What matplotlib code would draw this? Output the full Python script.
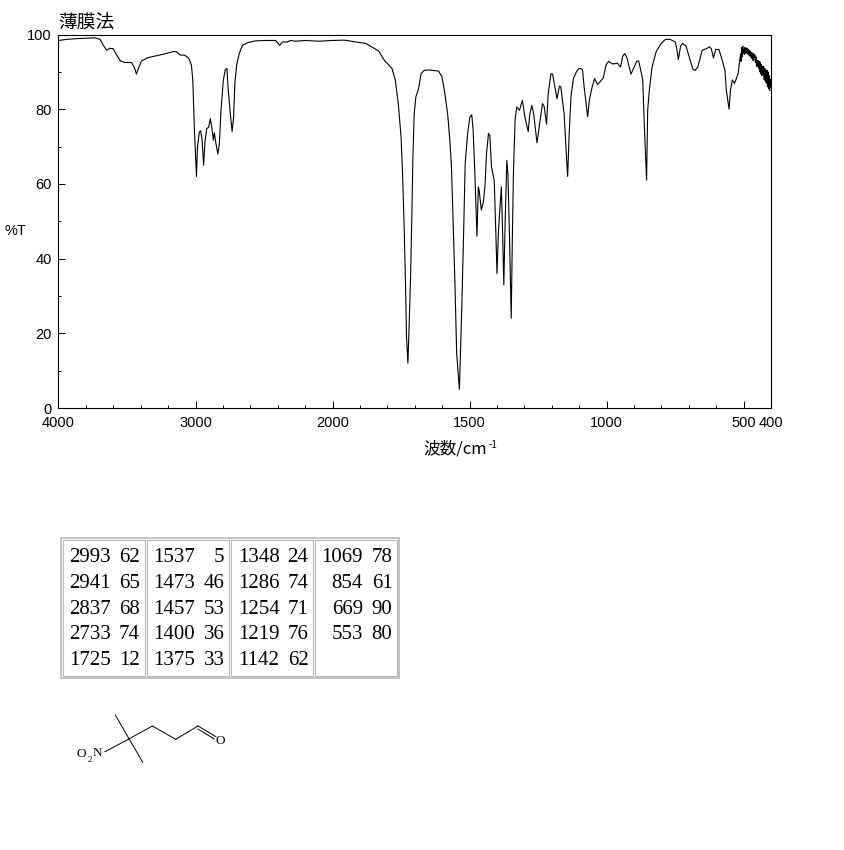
import numpy as np
import matplotlib
matplotlib.use('Agg')
import matplotlib.pyplot as plt
from matplotlib.patches import Rectangle
from matplotlib.ticker import FixedLocator, FixedFormatter

plt.rcParams['font.family'] = ['Noto Sans CJK JP', 'DejaVu Sans']

# spectrum
wavenumber = [
    4000, 3940, 3867, 3794, 3734, 3697, 3673, 3649, 3625, 3600, 3576, 3547, 3516, 3467, 3448, 3431,
    3417, 3395, 3347, 3286, 3214, 3165, 3141, 3112, 3080, 3049, 3030, 3020, 3008, 2993, 2986, 2972,
    2962, 2952, 2941, 2930, 2918, 2904, 2892, 2880, 2870, 2863, 2851, 2837, 2826, 2814, 2797, 2783,
    2771, 2761, 2746, 2733, 2722, 2713, 2700, 2681, 2657, 2621, 2560, 2487, 2415, 2386, 2366, 2330,
    2306, 2270, 2197, 2100, 2003, 1957, 1915, 1878, 1832, 1811, 1783, 1771, 1760, 1750, 1744, 1738,
    1734, 1730, 1725, 1720, 1715, 1710, 1707, 1702, 1696, 1686, 1677, 1665, 1647, 1613, 1601, 1592,
    1580, 1572, 1566, 1560, 1553, 1547, 1537, 1534, 1528, 1522, 1516, 1507, 1499, 1492, 1487, 1481,
    1473, 1468, 1465, 1457, 1450, 1444, 1438, 1431, 1426, 1420, 1410, 1404, 1400, 1395, 1389, 1384,
    1379, 1375, 1370, 1364, 1360, 1355, 1348, 1344, 1340, 1334, 1328, 1318, 1307, 1298, 1286, 1280,
    1273, 1266, 1254, 1246, 1234, 1228, 1219, 1213, 1203, 1197, 1181, 1172, 1167, 1155, 1147, 1142,
    1137, 1130, 1121, 1109, 1100, 1088, 1082, 1069, 1063, 1054, 1044, 1033, 1021, 1012, 1002, 993,
    978, 960, 949, 941, 934, 926, 911, 899, 890, 883, 874, 868, 862, 854, 850, 844,
    834, 819, 801, 785, 768, 749, 743, 738, 730, 722, 710, 697, 685, 677, 667, 651,
    636, 624, 618, 610, 602, 590, 578, 568, 563, 553, 548, 541, 533, 520, 511, 509,
    507, 505, 503, 501, 499, 497, 495, 493, 491, 489, 487, 485, 483, 481, 479, 477,
    475, 473, 471, 469, 467, 465, 463, 461, 459, 457, 455, 453, 451, 449, 447, 445,
    443, 441, 439, 437, 435, 433, 431, 429, 427, 425, 423, 421, 419, 417, 415, 413,
    411, 409, 407, 405, 403, 401,
]
transmittance = [
    98.4, 98.7, 98.9, 99.0, 99.1, 98.7, 97.1, 95.8, 96.3, 96.2, 94.5, 92.9, 92.5, 92.5, 91.3, 89.4,
    90.9, 92.9, 93.8, 94.3, 94.9, 95.4, 95.4, 94.5, 94.5, 93.6, 91.8, 87.8, 74.4, 62.0, 69.9, 73.9,
    74.2, 71.7, 65.0, 71.7, 74.8, 75.2, 77.5, 74.8, 71.7, 73.7, 70.8, 68.0, 70.8, 79.7, 87.8, 90.6,
    90.9, 85.1, 78.8, 74.0, 77.9, 86.9, 91.8, 94.9, 97.1, 97.8, 98.3, 98.4, 98.4, 97.1, 98.0, 98.0,
    98.4, 98.2, 98.4, 98.2, 98.4, 98.5, 98.0, 97.6, 95.6, 93.1, 90.9, 87.8, 81.5, 72.6, 61.8, 46.6,
    34.1, 18.9, 12.0, 23.4, 35.9, 53.8, 66.3, 78.8, 83.3, 85.5, 89.5, 90.4, 90.5, 90.2, 88.7, 85.1,
    78.8, 71.7, 64.5, 50.2, 32.3, 14.5, 5.0, 12.7, 27.9, 45.8, 65.4, 73.5, 77.9, 78.5, 74.4, 63.6,
    46.0, 59.2, 58.3, 53.0, 55.1, 59.2, 68.1, 73.5, 73.0, 64.5, 60.9, 46.6, 36.0, 46.6, 53.8, 59.2,
    45.8, 33.0, 50.2, 66.3, 62.7, 48.4, 24.0, 44.9, 62.7, 77.0, 80.6, 79.7, 82.4, 77.9, 74.0, 78.8,
    81.0, 78.8, 71.0, 75.2, 81.5, 80.8, 76.0, 84.2, 89.5, 89.4, 82.8, 86.2, 86.0, 78.8, 68.1, 62.0,
    72.6, 83.3, 88.2, 90.2, 90.9, 90.7, 86.0, 78.0, 82.4, 85.5, 88.2, 86.6, 87.6, 88.4, 91.8, 92.8,
    92.1, 92.3, 91.3, 94.2, 94.9, 93.8, 89.4, 91.3, 92.9, 92.9, 90.0, 87.8, 75.2, 61.0, 79.7, 85.1,
    91.3, 95.4, 97.6, 98.7, 98.7, 98.0, 95.8, 93.3, 96.9, 97.6, 96.9, 93.6, 90.7, 90.4, 91.3, 95.8,
    96.2, 96.7, 96.2, 93.7, 96.0, 96.0, 93.1, 90.4, 85.1, 80.0, 85.1, 87.8, 86.9, 89.5, 94.9, 92.8,
    96.5, 94.0, 96.9, 95.0, 96.0, 94.7, 96.5, 95.0, 96.4, 95.0, 96.3, 94.8, 96.0, 94.5, 95.8, 94.2,
    95.5, 94.0, 95.2, 93.5, 95.0, 93.0, 94.8, 93.8, 94.5, 92.5, 94.0, 91.5, 93.0, 91.5, 93.0, 91.0,
    92.8, 90.0, 92.6, 89.5, 92.0, 89.0, 91.5, 89.5, 91.5, 88.0, 91.0, 87.5, 90.5, 87.0, 90.5, 86.0,
    90.0, 85.5, 89.0, 85.0, 88.0, 86.0,
]

x_ticks = [3000, 2000, 1500, 1000, 500]
x_labels = ['3000', '2000', '1500', '1000', '500']
y_ticks = [0, 20, 40, 60, 80, 100]
y_labels = ['0', '20', '40', '60', '80', '100']

# peak table, one list per column
peak_wn = [
    ['2993', '2941', '2837', '2733', '1725'],
    ['1537', '1473', '1457', '1400', '1375'],
    ['1348', '1286', '1254', '1219', '1142'],
    ['1069', '854', '669', '553'],
]
peak_t = [
    ['62', '65', '68', '74', '12'],
    ['5', '46', '53', '36', '33'],
    ['24', '74', '71', '76', '62'],
    ['78', '61', '90', '80'],
]

W, H = 845, 850
TICK_FONT = 'Liberation Sans'
SERIF = 'Liberation Serif'


def forward(x):
    # the wavenumber axis is twice as compressed above 2000
    x = np.asarray(x, dtype=float)
    return np.where(x <= 2000, x, 2000 + (x - 2000) / 2)


def inverse(p):
    p = np.asarray(p, dtype=float)
    return np.where(p <= 2000, p, 2000 + (p - 2000) * 2)


fig = plt.figure(figsize=(W / 100, H / 100), dpi=100)
ax = fig.add_axes([58.5 / W, 1 - 408 / H, (771 - 58.5) / W, (408 - 34.5) / H])
ax.set_xscale('function', functions=(forward, inverse))
ax.plot(wavenumber, transmittance, color='black', lw=0.8)
ax.set_xlim(4000, 400)
ax.set_ylim(0, 100)

ax.xaxis.set_major_locator(FixedLocator(x_ticks))
ax.xaxis.set_major_formatter(FixedFormatter(x_labels))
ax.xaxis.set_minor_locator(FixedLocator(
    [3800, 3600, 3400, 3200, 2800, 2600, 2400, 2200, 1900, 1800, 1700, 1600,
     1400, 1300, 1200, 1100, 900, 800, 700, 600]))
ax.yaxis.set_major_locator(FixedLocator(y_ticks))
ax.yaxis.set_major_formatter(FixedFormatter(y_labels))
ax.yaxis.set_minor_locator(FixedLocator([10, 30, 50, 70, 90]))
ax.tick_params(which='major', direction='in', length=5, width=0.7)
ax.tick_params(which='minor', direction='in', length=2.5, width=0.7)
ax.tick_params(axis='x', pad=6)
ax.tick_params(axis='y', pad=5)
for lab in ax.get_xticklabels() + ax.get_yticklabels():
    lab.set_family(TICK_FONT)
    lab.set_fontsize(10.5)
for s in ax.spines.values():
    s.set_linewidth(0.8)

# everything else is laid out in pixel coordinates on an overlay
ov = fig.add_axes([0, 0, 1, 1], zorder=-1)
ov.set_xlim(0, W)
ov.set_ylim(H, 0)
ov.axis('off')

ov.text(58, 23, '薄膜法', fontsize=13.5, va='center', ha='left')
ov.text(5, 231, '%T', fontsize=10.5, va='center', ha='left', family=TICK_FONT)
ov.text(58, 423, '4000', fontsize=10.5, va='center', ha='center', family=TICK_FONT)
ov.text(771, 423, '400', fontsize=10.5, va='center', ha='center', family=TICK_FONT)
ov.text(423, 449, '波数/cm', fontsize=12, va='center', ha='left')
ov.text(489, 445, '-1', fontsize=7, va='center', ha='left')

# peak table
grey = '#b8b8b8'
ov.add_patch(Rectangle((61.5, 537.5), 338, 140, fill=False, ec=grey, lw=1.2))
cell_left = [63.5, 147.5, 231.5, 315.5]
wn_right = [111, 195, 279.5, 363]
t_right = [140, 224.5, 308.5, 392.5]
row_y = [557.5, 583, 609, 634.5, 660.5]
for c, left in enumerate(cell_left):
    ov.add_patch(Rectangle((left, 539.5), 82, 136, fill=False, ec=grey, lw=0.8))
    for r in range(len(peak_wn[c])):
        ov.text(wn_right[c], row_y[r], peak_wn[c][r], family=SERIF, fontsize=15,
                ha='right', va='center')
        ov.text(t_right[c], row_y[r], peak_t[c][r], family=SERIF, fontsize=15,
                ha='right', va='center')

# structure
bonds = [
    ((115.3, 715), (142.7, 762.3)),
    ((105, 751.7), (128.3, 739.3)),
    ((128.3, 739.3), (152.3, 726)),
    ((152.3, 726), (175.7, 739.3)),
    ((175.7, 739.3), (198, 726)),
    ((198, 726), (216, 736.7)),
    ((198, 729), (214, 738.8)),
]
for (x0, y0), (x1, y1) in bonds:
    ov.plot([x0, x1], [y0, y1], color='black', lw=0.7)
ov.text(81.7, 754, 'O', family=SERIF, fontsize=9.5, ha='center', va='center')
ov.text(90, 760, '2', family=SERIF, fontsize=6.5, ha='center', va='center')
ov.text(97.7, 753.5, 'N', family=SERIF, fontsize=9.5, ha='center', va='center')
ov.text(220.7, 741, 'O', family=SERIF, fontsize=9.5, ha='center', va='center')

fig.savefig('out.png', dpi=100)
